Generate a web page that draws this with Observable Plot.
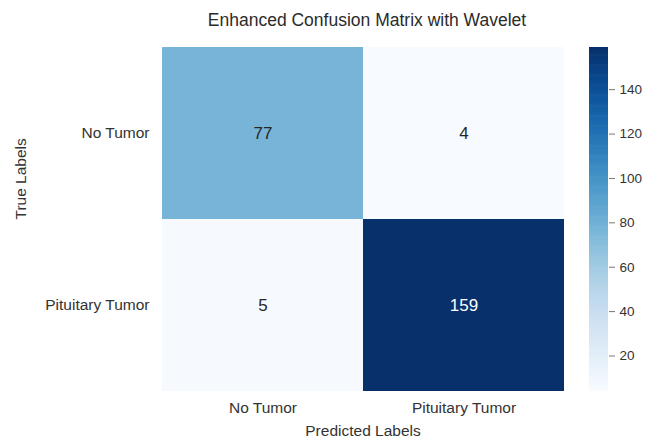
<!DOCTYPE html>
<html>
<head>
<meta charset="utf-8">
<script src="https://cdn.jsdelivr.net/npm/d3@7"></script>
<script src="https://cdn.jsdelivr.net/npm/@observablehq/plot@0.6"></script>
<style>
  html, body { margin: 0; padding: 0; background: #fff; }
  #chart { position: relative; width: 650px; height: 441px; font-family: "Liberation Sans", Arial, sans-serif; }
  #chart svg { position: absolute; top: 0; }
</style>
</head>
<body>
<div id="chart"></div>
<script>
const title = "Enhanced Confusion Matrix with Wavelet";
const xTitle = "Predicted Labels";
const yTitle = "True Labels";
const predictedLabels = ["No Tumor", "Pituitary Tumor"];
const trueLabels = ["No Tumor", "Pituitary Tumor"];
const counts = [
  [77, 4],
  [5, 159]
];
const colorbarTicks = [20, 40, 60, 80, 100, 120, 140];

const cells = [];
trueLabels.forEach((t, i) => predictedLabels.forEach((p, j) => cells.push({true: t, pred: p, value: counts[i][j]})));
const vmin = d3.min(cells, d => d.value);
const vmax = d3.max(cells, d => d.value);
const colorOpts = {type: "linear", scheme: "blues", domain: [vmin, vmax]};
const font = "'Liberation Sans', Arial, sans-serif";
const textColor = "#333";

const main = Plot.plot({
  width: 650,
  height: 441,
  marginLeft: 161,
  marginRight: 86,
  marginTop: 47,
  marginBottom: 50,
  style: {fontFamily: font, fontSize: "15px", color: textColor, background: "transparent"},
  x: {domain: predictedLabels, padding: 0, label: null},
  y: {domain: trueLabels, padding: 0, label: null},
  color: colorOpts,
  marks: [
    Plot.cell(cells, {x: "pred", y: "true", fill: "value", inset: 0}),
    Plot.text(cells, {x: "pred", y: "true", text: d => String(d.value), fontSize: 17,
      fill: d => d.value > (vmin + vmax) / 2 ? "white" : "#262626"}),
    Plot.axisX({tickSize: 0, tickPadding: 10, label: null, fontSize: 15.5}),
    Plot.axisY({tickSize: 0, tickPadding: 12, label: null, fontSize: 15.5}),
    Plot.text([xTitle], {frameAnchor: "bottom", lineAnchor: "middle", dy: 40, text: d => d, fontSize: 15.5, fill: textColor}),
    Plot.text([yTitle], {frameAnchor: "left", lineAnchor: "middle", dx: -140, rotate: -90, text: d => d, fontSize: 15.5, fill: textColor}),
    Plot.text([title], {frameAnchor: "top", lineAnchor: "middle", dx: 4, dy: -27, text: d => d, fontSize: 17.5, fill: "#2b2b2b",
      style: "letter-spacing:0.8px"})
  ]
});
main.style.left = "0px";

const step = 0.5;
const steps = d3.range(vmin, vmax, step);
const bar = Plot.plot({
  width: 70,
  height: 441,
  marginLeft: 9,
  marginRight: 42,
  marginTop: 47,
  marginBottom: 50,
  style: {fontFamily: font, fontSize: "13px", color: textColor, background: "transparent"},
  x: {domain: [0, 1], axis: null},
  y: {domain: [vmin, vmax], axis: null},
  color: colorOpts,
  marks: [
    Plot.rect(steps, {x1: 0, x2: 1, y1: d => d, y2: d => Math.min(vmax, d + step * 1.6), fill: d => d + step / 2}),
    Plot.axisY(colorbarTicks, {anchor: "right", tickSize: 6, tickPadding: 5, stroke: "#777", fill: textColor, label: null, fontSize: 13.5})
  ]
});
bar.style.left = "580px";

const root = document.getElementById("chart");
root.appendChild(main);
root.appendChild(bar);
</script>
</body>
</html>
